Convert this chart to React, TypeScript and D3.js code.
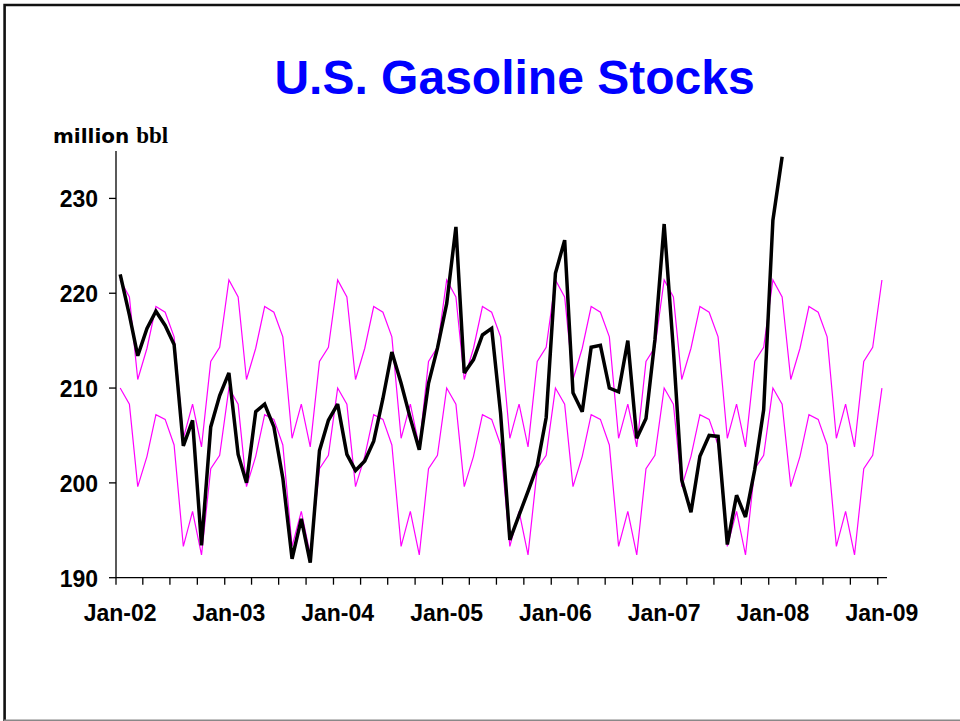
import React, { useEffect, useRef } from 'react';
import * as d3 from 'd3';

// monthly stocks, Jan-02 .. Feb-08 (million bbl)
const stocks2002 = [222.0, 217.7, 213.4, 216.3, 218.1, 216.6, 214.6, 203.9, 206.6, 193.4, 205.9, 209.2];
const stocks2003 = [211.6, 203.0, 200.0, 207.5, 208.3, 205.9, 200.5, 192.0, 196.2, 191.6, 203.4, 206.6];
const stocks2004 = [208.3, 203.0, 201.3, 202.3, 204.4, 208.9, 213.8, 210.5, 206.8, 203.5, 210.5, 214.2];
const stocks2005 = [218.9, 227.0, 211.6, 213.0, 215.6, 216.3, 207.3, 194.0, 196.6, 199.1, 201.8, 206.9];
const stocks2006 = [222.1, 225.6, 209.5, 207.5, 214.3, 214.5, 210.0, 209.6, 215.0, 204.7, 206.8, 215.1];
const stocks2007 = [227.3, 214.0, 200.3, 196.9, 202.8, 205.0, 204.9, 193.5, 198.7, 196.4, 201.4, 207.7];
const stocks2008 = [227.7, 234.4];

// seasonal range (same profile every year), Jan..Dec
const upperRange = [221.4, 219.6, 210.9, 214.2, 218.6, 218.0, 215.4, 204.7, 208.3, 203.8, 212.8, 214.3];
const lowerRange = [210.0, 208.3, 199.6, 202.8, 207.2, 206.7, 204.0, 193.3, 197.0, 192.4, 201.5, 202.9];

const yTicks = [190, 200, 210, 220, 230];
const startYear = 2002;
const rangeMonths = 85; // Jan-02 .. Jan-09

type Pt = { date: Date; value: number };

const App = () => {
  const svgRef = useRef<SVGSVGElement | null>(null);

  useEffect(() => {
    const svg = d3.select(svgRef.current);
    svg.selectAll('*').remove();

    const font = '"Liberation Sans", Arial, sans-serif';

    const x = d3.scaleTime()
      .domain([new Date(2002, 0, 1), new Date(2009, 1, 1)])
      .range([116, 887]);
    const y = d3.scaleLinear().domain([190, 235]).range([577.7, 151]);

    const monthDate = (i: number) => new Date(startYear, i, 15);

    const stocks: Pt[] = [
      ...stocks2002, ...stocks2003, ...stocks2004, ...stocks2005,
      ...stocks2006, ...stocks2007, ...stocks2008,
    ].map((v, i) => ({ date: monthDate(i), value: v }));

    const upper: Pt[] = d3.range(rangeMonths).map(i => ({ date: monthDate(i), value: upperRange[i % 12] }));
    const lower: Pt[] = d3.range(rangeMonths).map(i => ({ date: monthDate(i), value: lowerRange[i % 12] }));

    // frame
    svg.append('path')
      .attr('d', 'M4.6,721 V5 H960')
      .attr('fill', 'none')
      .attr('stroke', '#111')
      .attr('stroke-width', 2.6);
    svg.append('line')
      .attr('x1', 4).attr('x2', 960).attr('y1', 720.2).attr('y2', 720.2)
      .attr('stroke', '#888').attr('stroke-width', 1.6);

    // title
    svg.append('text')
      .attr('x', 514.5)
      .attr('y', 94)
      .attr('text-anchor', 'middle')
      .style('font-family', font)
      .style('font-weight', 'bold')
      .style('font-size', '48px')
      .attr('fill', '#0000FF')
      .text('U.S. Gasoline Stocks');

    // unit label
    const unit = svg.append('text').attr('x', 53).attr('y', 143.3).attr('fill', '#000');
    unit.append('tspan')
      .style('font-family', '"DejaVu Sans", Verdana, sans-serif')
      .style('font-weight', 'bold')
      .style('font-size', '20px')
      .text('million ');
    unit.append('tspan')
      .style('font-family', '"Liberation Serif", "Times New Roman", serif')
      .style('font-weight', 'bold')
      .style('font-size', '23px')
      .text('bbl');

    // y axis
    const [y0, y1] = y.range();
    svg.append('line')
      .attr('x1', 116).attr('x2', 116).attr('y1', y0).attr('y2', y1)
      .attr('stroke', '#000').attr('stroke-width', 1.3);
    yTicks.forEach(t => {
      svg.append('line')
        .attr('x1', 109).attr('x2', 116).attr('y1', y(t)).attr('y2', y(t))
        .attr('stroke', '#000').attr('stroke-width', 1.3);
      svg.append('text')
        .attr('x', 98)
        .attr('y', y(t) + 9)
        .attr('text-anchor', 'end')
        .style('font-family', font)
        .style('font-weight', 'bold')
        .style('font-size', '23px')
        .attr('fill', '#000')
        .text(t);
    });

    // x axis
    const [xa, xb] = x.range();
    svg.append('line')
      .attr('x1', xa).attr('x2', xb).attr('y1', y0).attr('y2', y0)
      .attr('stroke', '#000').attr('stroke-width', 1.3);
    const lastTick = new Date(2009, 0, 1);
    const xTicks = x.ticks(d3.timeMonth.every(3) as d3.TimeInterval).filter(d => d <= lastTick);
    xTicks.forEach(d => {
      svg.append('line')
        .attr('x1', x(d)).attr('x2', x(d)).attr('y1', y0).attr('y2', y0 + 7)
        .attr('stroke', '#000').attr('stroke-width', 1.3);
    });
    const fmt = d3.timeFormat('%b-%y');
    xTicks.filter(d => d.getMonth() === 0).forEach(d => {
      svg.append('text')
        .attr('x', x(new Date(d.getFullYear(), 0, 15)))
        .attr('y', 620.7)
        .attr('text-anchor', 'middle')
        .style('font-family', font)
        .style('font-weight', 'bold')
        .style('font-size', '23px')
        .attr('fill', '#000')
        .text(fmt(d));
    });

    const line = d3.line<Pt>()
      .x(d => x(d.date))
      .y(d => y(d.value));

    // seasonal range
    [upper, lower].forEach(s => {
      svg.append('path')
        .datum(s)
        .attr('d', line)
        .attr('fill', 'none')
        .attr('stroke', '#FF00FF')
        .attr('stroke-width', 1.2);
    });

    // actual stocks
    svg.append('path')
      .datum(stocks)
      .attr('d', line)
      .attr('fill', 'none')
      .attr('stroke', '#000')
      .attr('stroke-width', 3.5)
      .attr('stroke-linejoin', 'miter')
      .attr('stroke-miterlimit', 2);
  }, []);

  return (
    <div>
      <style>{`body { margin: 0; background: #fff; }`}</style>
      <svg ref={svgRef} width={960} height={721} style={{ display: 'block' }} />
    </div>
  );
};

export default App;
